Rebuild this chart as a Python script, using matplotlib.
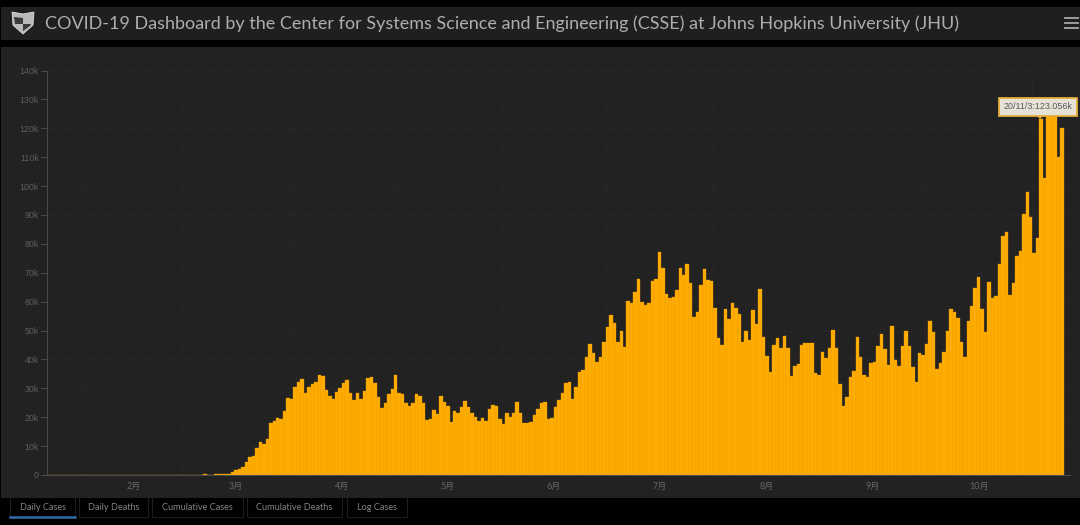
#!/usr/bin/env python3

from matplotlib import pyplot as plt
from matplotlib.patches import Polygon, Rectangle

title = "COVID-19 Dashboard by the Center for Systems Science and Engineering (CSSE) at Johns Hopkins University (JHU)"
tabs = ["Daily Cases", "Daily Deaths", "Cumulative Cases", "Cumulative Deaths", "Log Cases"]
tab_lefts = [10, 79, 152, 247, 347]
tab_rights = [75, 148, 243, 342, 407]

# daily cases in thousands, one bar per day from Jan 22
cases_start = [0.02] * 26 + [0.03, 0.02, 0.02, 0.03, 0.02, 0.03, 0.04, 0.03, 0.02, 0.03, 0.03, 0.04, 0.05, 0.04,
               0.06, 0.07, 0.08, 0.1, 0.12, 0.2, 0.12, 0.15, 0.3, 0.35, 0.4, 0.45, 0.5]
cases_mar = [1.2, 1.7, 2, 2.7, 4.6, 6.3, 6.6, 9.2, 11.3, 10.7, 12.3, 17.9, 18.7, 19.6, 19.3, 22.3, 26.5, 26.2,
             30.6, 32.3, 33.1, 28.5, 30.3, 31.5, 32.3, 34.6, 34.3, 29.4, 27.3, 26.2, 28.8, 30, 31.7, 32.9, 28.3,
             26, 28.5, 26.2, 29.2, 33.4, 34, 32, 27.1, 23.3, 24.8, 28, 29.6, 34.6, 28.3]
cases_may = [27.9, 24.8, 23.9, 25, 27.9, 27.3, 25, 19, 19.3, 22.5, 21.1, 27.3, 25.4, 23.9, 18.2, 22.3, 21.3, 23.6,
             25.7, 23.6, 21.3, 20.2, 18.7, 19.6, 18.7, 22.8, 24.2, 23.9, 19.3, 17.6, 21.3, 20, 21.3, 25.4, 21.6,
             18.1, 17.9, 18.5, 20.8, 23, 25, 25.4, 19.4, 19.8, 23.6, 26, 28.5, 31.7, 32.3, 26.3, 30.6, 35.8]
cases_jun = [36.5, 40.7, 45.3, 42.3, 39.2, 41, 46.1, 51.3, 55.4, 52.7, 46.1, 49.9, 44.4, 60.3, 59.4, 63.4, 67.7,
             60, 58.8, 59.6, 67.2, 67.7, 77.3, 71.5, 62.6, 61.1, 61.7, 64.2, 71.5, 69.2, 73.2, 66.3, 54.6, 56.5,
             65.7, 71.2, 67.5, 67.2, 57.7, 47.3, 45, 57.3, 54, 59.6, 57.9, 55.6, 46.1, 49.8, 46.7]
cases_aug = [57, 52.1, 64.4, 47.6, 41.2, 35.8, 45, 47.3, 44, 48.1, 44, 34.3, 37.7, 38.4, 45, 45.8, 45.8, 45.8,
             35.4, 34.6, 42.4, 40.6, 44, 50.2, 43.8, 31.4, 24, 26.9, 33.8, 36.1, 47.6, 40.9, 34.6, 34, 38.6,
             39.2, 44.6, 48.7, 43.6, 38, 51.7, 39.8, 37.7, 44.6, 49.8, 44.6, 37.3, 32.3, 42.3]
cases_oct = [41.5, 45.2, 53.4, 49.6, 36.6, 38.6, 42.7, 49.9, 57.3, 56.5, 54.2, 46.1, 40.9, 53.3, 58.5, 64.6, 68.6,
             57.3, 49.6, 66.7, 61.1, 62, 73, 82.7, 84, 62.3, 66.3, 75.9, 77.6, 90.3, 98, 89.2, 76.7, 82.1,
             123.056, 102.7, 126, 128, 127, 110, 120]
cases = cases_start + cases_mar + cases_may + cases_jun + cases_aug + cases_oct

y_ticks = list(range(0, 150, 10))
y_labels = ["0"] + [str(v) + "k" for v in y_ticks[1:]]
month_starts = [10, 39, 70, 100, 131, 161, 192, 223, 253, 284]
month_mids = [25, 54.5, 85, 115.5, 146, 176.5, 207.5, 238, 268.5]
month_labels = ["2月", "3月", "4月", "5月", "6月", "7月", "8月", "9月", "10月"]

plt.rcParams['font.family'] = ['Lato', 'Noto Sans CJK SC', 'DejaVu Sans']

W, H = 1080, 525
fig = plt.figure(figsize=(10.8, 5.25), dpi=100, facecolor="#000000")


def pixel_axes(zorder):
    pax = fig.add_axes([0, 0, 1, 1], zorder=zorder)
    pax.set_xlim(0, W)
    pax.set_ylim(H, 0)
    pax.axis("off")
    return pax


####
# page furniture, pixel coordinates
####
page = pixel_axes(0)
page.add_patch(Rectangle((1, 7), 1079, 33, color="#1f1f1f", lw=0))
page.add_patch(Rectangle((1, 47), 1079, 451, color="#222222", lw=0))
page.text(45, 24, title, color="#aeaeae", fontsize=12.93, va="center", ha="left", family="Lato")

# shield
page.add_patch(Polygon([(12, 12), (23, 14), (34, 12), (33, 25), (23, 34), (13, 25)], closed=True, fc="#b9b9b9", ec="#dcdcdc", lw=0.6))
page.add_patch(Polygon([(14, 17), (23, 18), (23, 24), (15, 24)], closed=True, fc="#3a3a3a", lw=0))
page.add_patch(Polygon([(23, 24), (31, 24), (30, 26), (23, 31)], closed=True, fc="#3a3a3a", lw=0))

# menu
for y in [18, 23, 28]:
    page.plot([1065, 1078], [y, y], color="#a8a8a8", lw=1.3)

for name, left, right in zip(tabs, tab_lefts, tab_rights):
    page.plot([left, left, right, right], [498, 517, 517, 498], color="#1c1c1c", lw=0.8)
    page.text((left + right) / 2, 507.5, name, color="#858585", fontsize=6.6, ha="center", va="center", family="Lato")
page.plot([tab_lefts[0], tab_rights[0]], [517, 517], color="#2f6da8", lw=1.8)

####
# chart
####
ax = fig.add_axes([47 / W, (H - 475) / H, (1070 - 47) / W, 404.5 / H], facecolor="#222222", zorder=1)
ax.bar(range(len(cases)), cases, width=1, align="edge", color="#ffac00", edgecolor="#e89e08", linewidth=0.25)
ax.set_xlim(0, (1070 - 47) / 3.47)
ax.set_ylim(0, 140)
ax.set_axisbelow(True)

ax.set_yticks(y_ticks)
ax.set_yticklabels(y_labels, color="#5e5e5e", fontsize=6.3, family="Liberation Sans")
ax.set_xticks(month_starts)
ax.set_xticklabels([])
ax.set_xticks(month_mids, minor=True)
ax.set_xticklabels(month_labels, minor=True, color="#666666", fontsize=6.5)
ax.tick_params(axis="x", which="major", length=0)
ax.tick_params(axis="x", which="minor", length=0, pad=5)
ax.tick_params(axis="y", length=4, width=0.7, color="#4c4c4c", pad=2)
ax.grid(True, which="major", color="#2c2c2c", lw=0.6, ls=(0, (2, 2)))
for side in ["top", "right"]:
    ax.spines[side].set_visible(False)
ax.spines["left"].set_color("#4c4c4c")
ax.spines["bottom"].set_color("#4c4c4c")
ax.spines["left"].set_linewidth(0.7)
ax.spines["bottom"].set_linewidth(0.7)

####
# tooltip on Nov 3
####
top = pixel_axes(2)
top.add_patch(Polygon([(1036, 115), (1044, 115), (1040, 119)], closed=True, fc="#e8b040", lw=0))
top.add_patch(Rectangle((998.5, 97.5), 78, 18, fc="#e6e2d6", ec="#e3ad3a", lw=1.3))
top.text(1037.5, 106.5, "20/11/3:123.056k", color="#5a5a60", fontsize=6.4, ha="center", va="center", family="Liberation Sans")

fig.savefig("out.png", dpi=100, facecolor=fig.get_facecolor())
